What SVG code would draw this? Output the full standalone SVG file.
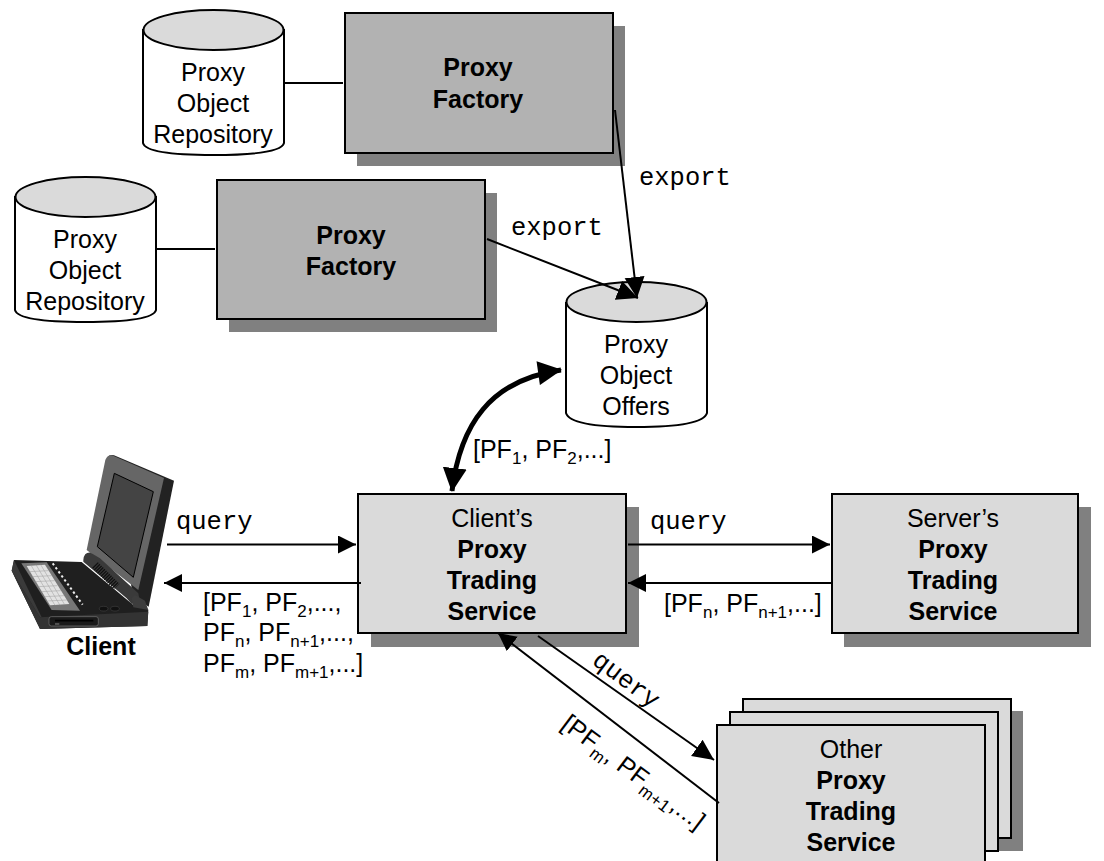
<svg xmlns="http://www.w3.org/2000/svg" width="1104" height="861" viewBox="0 0 1104 861">
<style>
text{font-family:"Liberation Sans",Arial,sans-serif;font-size:25px;fill:#000}
.c{text-anchor:middle}
.b{font-weight:bold}
.m{font-family:"Liberation Mono","Courier New",monospace;font-size:25.500px}
.s{font-size:17px}
.box{stroke:#000;stroke-width:2}
.fac{fill:#b2b2b2}
.pts{fill:#dadada}
.sh{fill:#808080}
.cyl{fill:#fff;stroke:#000;stroke-width:2}
.top{fill:#dadada;stroke:#000;stroke-width:2}
.ln{fill:none;stroke:#000;stroke-width:2}
.ar{marker-end:url(#a)}
.ad{marker-end:url(#d)}
</style>
<defs>
<marker id="a" markerUnits="userSpaceOnUse" markerWidth="20" markerHeight="20" refX="18" refY="9" orient="auto"><path d="M0 0L18 9L0 18Z" fill="#000"/></marker>
<marker id="d" markerUnits="userSpaceOnUse" markerWidth="24" markerHeight="24" refX="21" refY="10" orient="auto"><path d="M0 0L21 10L0 20Z" fill="#000"/></marker>
<marker id="t" markerUnits="userSpaceOnUse" markerWidth="26" markerHeight="26" refX="23" refY="12" orient="auto"><path d="M0 0L24 12L0 24Z" fill="#000"/></marker>
<marker id="ts" markerUnits="userSpaceOnUse" markerWidth="26" markerHeight="26" refX="1" refY="12" orient="auto"><path d="M24 0L0 12L24 24Z" fill="#000"/></marker>
</defs>
<g id="factory-top"><rect class="sh" x="357" y="26" width="268" height="140"/><rect class="box fac" x="345" y="13" width="268" height="140"/><text class="c b" x="478" y="76">Proxy</text><text class="c b" x="478" y="108">Factory</text></g>
<g id="factory-left"><rect class="sh" x="229" y="193" width="268" height="139"/><rect class="box fac" x="217" y="180" width="268" height="139"/><text class="c b" x="351" y="244">Proxy</text><text class="c b" x="351" y="275">Factory</text></g>
<g id="repo-top"><path class="cyl" d="M143 30V143Q146 155 213 155Q281 155 284 143V30Z"/><ellipse class="top" cx="213.500" cy="30" rx="70" ry="20"/><text class="c" x="213" y="81">Proxy</text><text class="c" x="213" y="112">Object</text><text class="c" x="213" y="143">Repository</text></g>
<g id="repo-left"><path class="cyl" d="M15 197V310Q18 322 85 322Q153 322 156 310V197Z"/><ellipse class="top" cx="85.500" cy="197" rx="70" ry="20"/><text class="c" x="85" y="248">Proxy</text><text class="c" x="85" y="279">Object</text><text class="c" x="85" y="310">Repository</text></g>
<g id="offers"><path class="cyl" d="M566 303V413Q570 427 636 427Q703 427 707 413V303Z"/><ellipse class="top" cx="636.500" cy="302" rx="70" ry="20"/><text class="c" x="636" y="353">Proxy</text><text class="c" x="636" y="384">Object</text><text class="c" x="636" y="415">Offers</text></g>
<g id="client-pts"><rect class="sh" x="371" y="507" width="268" height="140"/><rect class="box pts" x="358" y="494" width="268" height="139"/><text class="c" x="492" y="527">Client’s</text><text class="c b" x="492" y="558">Proxy</text><text class="c b" x="492" y="589">Trading</text><text class="c b" x="492" y="620">Service</text></g>
<g id="server-pts"><rect class="sh" x="844" y="507" width="247" height="140"/><rect class="box pts" x="832" y="494" width="246" height="139"/><text class="c" x="953" y="527">Server’s</text><text class="c b" x="953" y="558">Proxy</text><text class="c b" x="953" y="589">Trading</text><text class="c b" x="953" y="620">Service</text></g>
<g id="other-pts"><rect class="sh" x="755" y="711" width="268" height="140"/><rect class="box pts" x="743" y="699" width="268" height="139"/><rect class="box pts" x="730" y="712" width="268" height="139"/><rect class="box pts" x="717" y="725" width="268" height="145"/><text class="c" x="851" y="758">Other</text><text class="c b" x="851" y="789">Proxy</text><text class="c b" x="851" y="820">Trading</text><text class="c b" x="851" y="851">Service</text></g>
<g id="client">
<g transform="translate(70,450) scale(.3333)">
<path d="M112 22Q120 12 132 16L312 92L236 470L190 440Z" fill="#222"/>
<path d="M106 30Q112 14 126 16L282 84L205 420L50 300Z" fill="#666"/>
<path d="M133 70L250 125L190 382L82 290Z" fill="#444" stroke="#000" stroke-width="3"/>
</g>
<g transform="translate(0,530) scale(.3333)">
<path d="M42 90L245 96L400 225L420 205L445 240L442 288L120 297L35 122Z" fill="#1f1f1f"/>
<path d="M35 122L120 262L445 245L442 288L120 297Z" fill="#333"/>
<path d="M35 122L42 90L125 262L120 262Z" fill="#3a3a3a"/>
<path d="M64 100L140 97L240 242L155 240Z" fill="#777"/>
<path d="M80 108L135 104L208 222L150 226Z" fill="#e2e2e2"/>
<path d="M92 104L165 226M108 104L180 226M122 104L194 224M88 125L145 122M96 140L155 137M104 155L164 152M114 170L172 167M124 185L182 182M134 200L192 197M142 213L200 210" stroke="#999" stroke-width="1.500" fill="none"/>
<path d="M158 100L248 224" stroke="#eee" stroke-width="6" stroke-dasharray="7 8" fill="none"/>
<path d="M250 90Q252 66 272 68L300 85L415 190L420 215L395 222L380 205L250 95Z" fill="#3a3a3a"/>
<path d="M285 105L350 170" stroke="#111" stroke-width="24" stroke-dasharray="4 3" fill="none"/>
<path d="M395 205L405 195L435 212L445 240L400 232Z" fill="#3d3d3d"/>
<rect x="147" y="260" width="148" height="28" rx="7" fill="#1a1a1a" stroke="#777" stroke-width="2"/>
<path d="M165 272H280" stroke="#000" stroke-width="5"/>
<path d="M165 282H178" stroke="#888" stroke-width="3"/>
<ellipse cx="311" cy="236" rx="13" ry="7" fill="#111" stroke="#666"/><ellipse cx="345" cy="236" rx="13" ry="7" fill="#111" stroke="#666"/>
</g>
<text class="c b" x="101" y="655">Client</text>
</g>
<g id="connectors">
<path class="ln" d="M284 83H343"/>
<path class="ln" d="M155 249H215"/>
<path class="ln ad" d="M615 110L637 298"/>
<path class="ln ad" d="M487 239L638 298"/>
<path d="M561 370C490 380 460 425 452 491" fill="none" stroke="#000" stroke-width="5" marker-start="url(#ts)" marker-end="url(#t)"/>
<path class="ln ar" d="M167 544.500H356"/>
<path class="ln ar" d="M361 583H164"/>
<path class="ln ar" d="M628 544.500H830"/>
<path class="ln ar" d="M832 583H628"/>
<path class="ln ad" d="M538 636L714 760"/>
<path class="ln ar" d="M719 803L498 633"/>
</g>
<g id="labels">
<text class="m" x="511" y="235">export</text>
<text class="m" x="639" y="185">export</text>
<text class="m" x="176" y="529">query</text>
<text class="m" x="650" y="529">query</text>
<text class="m" transform="translate(591,663) rotate(37)">query</text>
<text x="473" y="458">[PF<tspan class="s" dy="6">1</tspan><tspan dy="-6">, PF</tspan><tspan class="s" dy="6">2</tspan><tspan dy="-6">,...]</tspan></text>
<text x="203" y="611">[PF<tspan class="s" dy="6">1</tspan><tspan dy="-6">, PF</tspan><tspan class="s" dy="6">2</tspan><tspan dy="-6">,...,</tspan></text>
<text x="203" y="641">PF<tspan class="s" dy="6">n</tspan><tspan dy="-6">, PF</tspan><tspan class="s" dy="6">n+1</tspan><tspan dy="-6">,...,</tspan></text>
<text x="203" y="672">PF<tspan class="s" dy="6">m</tspan><tspan dy="-6">, PF</tspan><tspan class="s" dy="6">m+1</tspan><tspan dy="-6">,...]</tspan></text>
<text x="664" y="612">[PF<tspan class="s" dy="6">n</tspan><tspan dy="-6">, PF</tspan><tspan class="s" dy="6">n+1</tspan><tspan dy="-6">,...]</tspan></text>
<text transform="translate(560,727) rotate(37)" letter-spacing=".3">[PF<tspan class="s" dy="6">m</tspan><tspan dy="-6">, PF</tspan><tspan class="s" dy="6">m+1</tspan><tspan dy="-6">,...]</tspan></text>
</g>
</svg>
